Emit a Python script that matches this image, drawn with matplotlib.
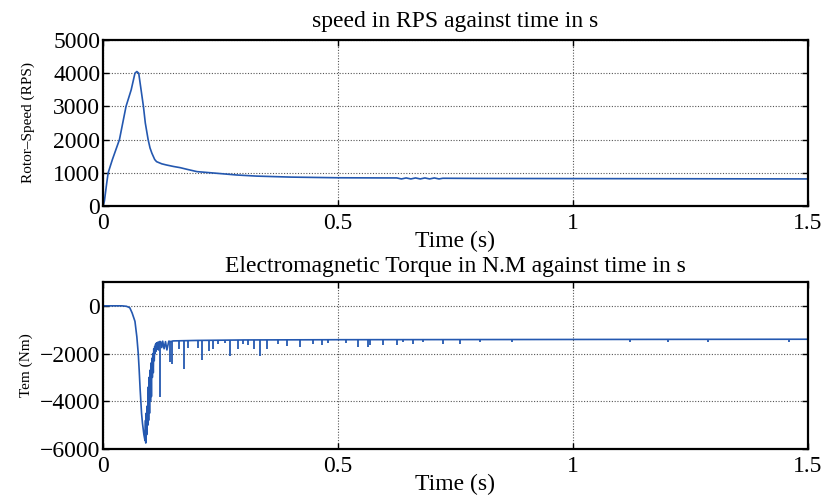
import matplotlib
matplotlib.use("Agg")
import matplotlib.pyplot as plt

# ---- data ----
speed_t = [0, 0.003, 0.008, 0.011, 0.02, 0.035, 0.049, 0.06, 0.068, 0.072, 0.076,
           0.08, 0.083, 0.086, 0.09, 0.096, 0.1, 0.104, 0.11, 0.114, 0.125, 0.135,
           0.15, 0.164, 0.18, 0.2, 0.242, 0.284, 0.327, 0.4, 0.5, 0.6, 0.625, 0.635,
           0.645, 0.655, 0.665, 0.675, 0.685, 0.695, 0.705, 0.715, 0.723, 0.8, 1.0, 1.5]
speed_v = [0, 150, 700, 1000, 1400, 2000, 3000, 3500, 4000, 4050, 4000,
           3600, 3300, 3000, 2500, 2000, 1750, 1590, 1400, 1335, 1270, 1235,
           1190, 1155, 1100, 1035, 985, 934, 900, 870, 850, 845, 845, 815,
           845, 815, 845, 815, 845, 815, 845, 815, 835, 830, 825, 815]

torque_t = [0, 0.04, 0.05, 0.057, 0.062, 0.068, 0.072, 0.075, 0.077, 0.079, 0.082,
            0.084, 0.087, 0.0894, 0.0905, 0.091, 0.092, 0.093, 0.094, 0.0955, 0.0965,
            0.097, 0.098, 0.099, 0.100, 0.101, 0.102, 0.103, 0.104, 0.105, 0.106,
            0.107, 0.108, 0.109, 0.110, 0.111, 0.112, 0.113, 0.114, 0.115, 0.117,
            0.118, 0.12, 0.1225, 0.125, 0.127, 0.13, 0.133, 0.136, 0.14, 0.145,
            0.147, 0.15, 0.2, 0.3, 0.5, 1.0, 1.5]
torque_v = [0, 0, -20, -80, -300, -650, -1300, -2000, -2700, -3500, -4500,
            -4920, -5400, -5650, -4800, -5750, -4500, -5400, -4200, -5000, -3400,
            -4800, -3000, -4500, -2700, -4000, -2400, -3800, -2200, -3000, -2000,
            -2800, -1800, -2300, -1700, -2000, -1600, -1900, -1550, -1800, -1520,
            -1850, -1500, -1500, -1750, -1480, -1800, -1500, -1850, -1480, -1500,
            -1480, -1470, -1450, -1430, -1420, -1410, -1400]

spike_t = [0.1213, 0.143, 0.146, 0.162, 0.1723, 0.1816, 0.2028, 0.21, 0.2255, 0.2348,
           0.2454, 0.2596, 0.2702, 0.288, 0.2986, 0.309, 0.321, 0.334, 0.348, 0.373,
           0.391, 0.419, 0.447, 0.465, 0.479, 0.518, 0.543, 0.564, 0.568, 0.596,
           0.625, 0.639, 0.66, 0.681, 0.724, 0.76, 0.802, 0.871, 1.122, 1.203, 1.288, 1.46]
spike_v = [-3820, -2360, -2430, -1800, -2640, -1750, -1750, -2264, -1875, -1806,
           -1597, -1570, -2083, -1806, -1597, -1660, -1806, -2083, -1806, -1600,
           -1700, -1720, -1600, -1630, -1570, -1570, -1720, -1740, -1660, -1630,
           -1660, -1530, -1600, -1500, -1600, -1600, -1500, -1520, -1500, -1510, -1500, -1500]

x_ticks = [0, 0.5, 1, 1.5]
x_ticklabels = ["0", "0.5", "1", "1.5"]
speed_yticks = [0, 1000, 2000, 3000, 4000, 5000]
torque_yticks = [-6000, -4000, -2000, 0]

# ---- style ----
plt.rcParams['font.family'] = ['Liberation Serif', 'DejaVu Serif']
plt.rcParams['axes.unicode_minus'] = True
blue = '#2458b0'

fig = plt.figure(figsize=(8.28, 4.96), dpi=100)
ax1 = fig.add_axes([0.1244, 0.5847, 0.8514, 0.3347])
ax2 = fig.add_axes([0.1244, 0.0948, 0.8514, 0.3367])


def style(ax):
    ax.set_xlim(0, 1.5)
    ax.set_xticks(x_ticks)
    ax.set_xticklabels(x_ticklabels)
    ax.grid(True, color='#555555', linestyle=(0, (1, 1.5)), linewidth=0.8)
    ax.tick_params(direction='in', length=4, width=1, top=True, right=True,
                   labelsize=17)
    ax.tick_params(axis='x', pad=5)
    ax.tick_params(axis='y', pad=2)
    for s in ax.spines.values():
        s.set_linewidth(1.6)
        s.set_color('black')


ax1.plot(speed_t, speed_v, color=blue, linewidth=1.2)
ax1.set_ylim(0, 5000)
ax1.set_yticks(speed_yticks)
style(ax1)
ax1.set_title("speed in RPS against time in s", fontsize=17, pad=9)
ax1.set_xlabel("Time (s)", fontsize=17, labelpad=-2)
ax1.set_ylabel("Rotor\u2013Speed (RPS)", fontsize=11, labelpad=13)

ax2.plot(torque_t, torque_v, color=blue, linewidth=1.2)
base = [-1480 if t < 0.2 else -1430 for t in spike_t]
ax2.vlines(spike_t, base, spike_v, color=blue, linewidth=1.3)
ax2.set_ylim(-6000, 1000)
ax2.set_yticks(torque_yticks)
style(ax2)
ax2.set_title("Electromagnetic Torque in N.M against time in s", fontsize=17, pad=7)
ax2.set_xlabel("Time (s)", fontsize=17, labelpad=-2)
ax2.set_ylabel("Tem (Nm)", fontsize=11, labelpad=5)

fig.savefig("out.png", dpi=100)
